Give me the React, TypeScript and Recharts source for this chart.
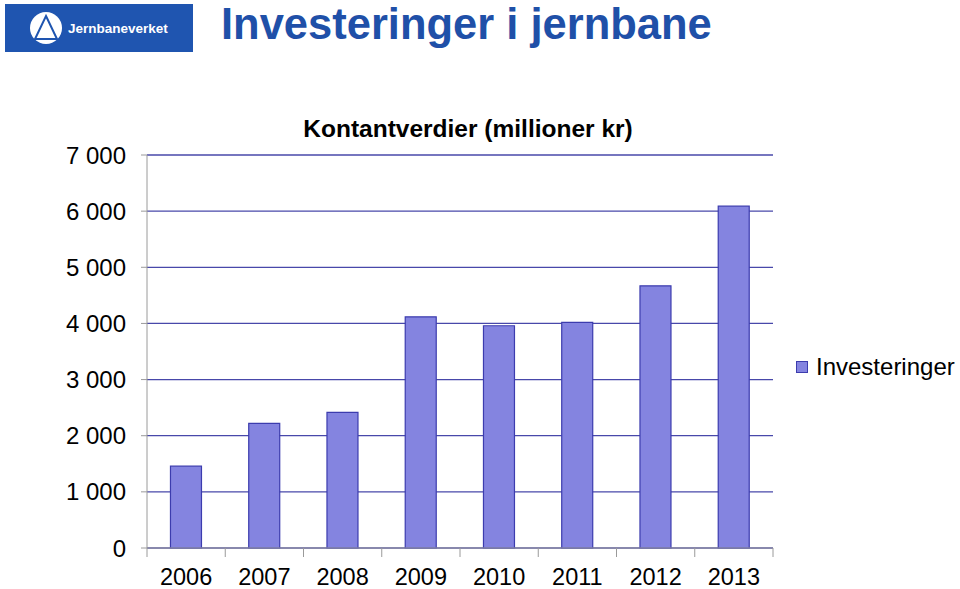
import React from 'react';
import { BarChart, Bar, XAxis, YAxis, CartesianGrid } from 'recharts';

const years = ['2006', '2007', '2008', '2009', '2010', '2011', '2012', '2013'];
const investeringer = [1458, 2219, 2415, 4118, 3959, 4018, 4669, 6089];
const yTicks = [0, 1000, 2000, 3000, 4000, 5000, 6000, 7000];
const SERIES_NAME = 'Investeringer';

const data = years.map((year, i) => ({ year, [SERIES_NAME]: investeringer[i] }));

const FONT = '"Liberation Sans", Arial, sans-serif';
const BAR_FILL = '#8484e0';
const BAR_STROKE = '#3c3cae';
const PLOT_LEFT = 147;
const PLOT_RIGHT = 773;
const BAND = (PLOT_RIGHT - PLOT_LEFT) / years.length;
const X_TICK_SIZE = 9;
const X_TICK_MARGIN = 11;

const formatThousands = (v: number) =>
  v === 0 ? '0' : String(v).replace(/\B(?=(\d{3})+(?!\d))/g, ' ');

// x-axis ticks sit on the category boundaries, like Excel does
const YearTick = (props: any) => {
  const { x, y, payload, index } = props;
  const top = y - X_TICK_MARGIN - X_TICK_SIZE;
  const bottom = y - X_TICK_MARGIN;
  return (
    <g>
      <line x1={x - BAND / 2} x2={x - BAND / 2} y1={top} y2={bottom} stroke="#9a9a9a" />
      {index === years.length - 1 && (
        <line x1={x + BAND / 2} x2={x + BAND / 2} y1={top} y2={bottom} stroke="#9a9a9a" />
      )}
      <text x={x} y={y} dy="0.71em" textAnchor="middle" fill="#000" fontSize={23.5} fontFamily={FONT}>
        {payload.value}
      </text>
    </g>
  );
};

const Logo = () => (
  <div
    style={{
      position: 'absolute',
      left: 5,
      top: 4,
      width: 188,
      height: 48,
      background: '#1f55b0',
      display: 'flex',
      alignItems: 'center',
    }}
  >
    <svg width={40} height={40} style={{ marginLeft: 21 }}>
      <circle cx={20} cy={20} r={16} fill="#fff" />
      <path d="M20 8 L31 31 L9 31 Z" fill="none" stroke="#1f55b0" strokeWidth={2} />
    </svg>
    <span style={{ color: '#fff', fontFamily: FONT, fontWeight: 'bold', fontSize: 13.5, marginLeft: 2 }}>
      Jernbaneverket
    </span>
  </div>
);

export default function App() {
  return (
    <div style={{ position: 'fixed', left: 0, top: 0, width: 960, height: 589, background: '#fff' }}>
      <Logo />
      <div
        style={{
          position: 'absolute',
          left: 221,
          top: 0,
          fontFamily: FONT,
          fontWeight: 'bold',
          fontSize: 43.5,
          color: '#1f50a8',
          whiteSpace: 'nowrap',
        }}
      >
        Investeringer i jernbane
      </div>
      <div
        style={{
          position: 'absolute',
          left: 168,
          width: 600,
          top: 115,
          textAlign: 'center',
          fontFamily: FONT,
          fontWeight: 'bold',
          fontSize: 24.5,
          color: '#000',
        }}
      >
        Kontantverdier (millioner kr)
      </div>
      <div style={{ position: 'absolute', left: 0, top: 0 }}>
        <BarChart
          width={960}
          height={589}
          data={data}
          margin={{ top: 155, right: 960 - PLOT_RIGHT, left: 0, bottom: 0 }}
          barCategoryGap="30%"
        >
          <CartesianGrid vertical={false} stroke="#4848aa" strokeWidth={1.3} />
          <XAxis
            dataKey="year"
            height={41}
            axisLine={{ stroke: '#9a9a9a' }}
            tickLine={false}
            tickSize={X_TICK_SIZE}
            tickMargin={X_TICK_MARGIN}
            tick={<YearTick />}
            interval={0}
          />
          <YAxis
            width={PLOT_LEFT}
            domain={[0, 7000]}
            ticks={yTicks}
            tickFormatter={formatThousands}
            axisLine={{ stroke: '#9a9a9a' }}
            tickLine={{ stroke: '#9a9a9a' }}
            tickSize={6}
            tickMargin={15}
            tick={{ fill: '#000', fontSize: 24, fontFamily: FONT }}
          />
          <Bar
            dataKey={SERIES_NAME}
            fill={BAR_FILL}
            stroke={BAR_STROKE}
            strokeWidth={1.2}
            isAnimationActive={false}
          />
        </BarChart>
      </div>
      <div
        style={{
          position: 'absolute',
          left: 796,
          top: 353,
          display: 'flex',
          alignItems: 'center',
          fontFamily: FONT,
          fontSize: 24,
          color: '#000',
        }}
      >
        <span
          style={{
            display: 'inline-block',
            width: 10,
            height: 10,
            background: BAR_FILL,
            border: `1px solid ${BAR_STROKE}`,
            marginRight: 8,
          }}
        />
        {SERIES_NAME}
      </div>
    </div>
  );
}
